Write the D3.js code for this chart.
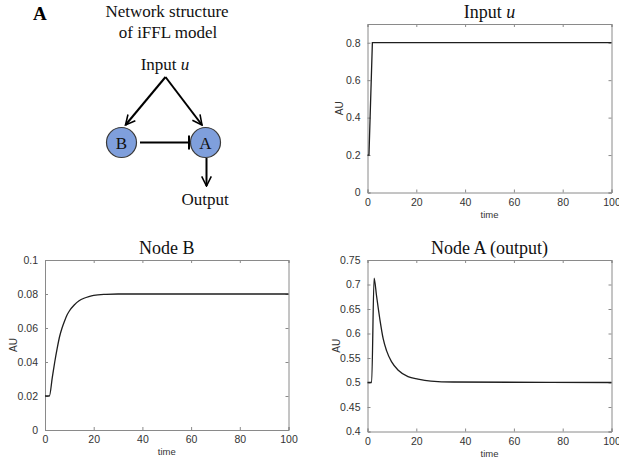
<!DOCTYPE html>
<html>
<head>
<meta charset="utf-8">
<script src="https://cdn.jsdelivr.net/npm/d3@7"></script>
<style>
  body { margin: 0; background: #fff; }
  svg { display: block; }
</style>
</head>
<body>
<div id="VisContainer"></div>
<script>
// time points and values
var uTime = [0, 0.6, 2, 100];
var uValue = [0.2, 0.2, 0.8, 0.8];

var bTime = [0, 1.8, 3, 4, 5, 6, 7, 8, 9, 10, 12, 14, 16, 18, 20, 25, 30, 100];
var bValue = [0.02, 0.02, 0.031, 0.040, 0.048, 0.055, 0.060, 0.064, 0.0675, 0.070, 0.0735, 0.076, 0.0775, 0.0785, 0.0792, 0.0798, 0.08, 0.08];

var aTime = [0, 1.7, 2.7, 3.7, 5.1, 6.4, 7.8, 9.9, 12.6, 16.6, 20.7, 26, 35, 100];
var aValue = [0.5, 0.5, 0.713, 0.677, 0.628, 0.59, 0.565, 0.542, 0.525, 0.512, 0.507, 0.503, 0.501, 0.5];

var xTicks = [0, 20, 40, 60, 80, 100];
var uTicks = [0, 0.2, 0.4, 0.6, 0.8];
var bTicks = [0, 0.02, 0.04, 0.06, 0.08, 0.1];
var aTicks = [0.4, 0.45, 0.5, 0.55, 0.6, 0.65, 0.7, 0.75];

var width = 619, height = 461;
var serif = "'Liberation Serif', 'DejaVu Serif', serif";
var sans = "'Liberation Sans', Arial, sans-serif";
var frameColor = "#8a8a8a";
var textColor = "#333";

var svg = d3.select("#VisContainer").append("svg")
    .attr("width", width)
    .attr("height", height);

function zip(ts, vs) {
  return ts.map(function(t, i) { return {t: t, v: vs[i]}; });
}

function drawPanel(p) {
  var x = d3.scaleLinear().domain([0, 100]).range([p.left, p.right]);
  var y = d3.scaleLinear().domain(p.yDomain).range([p.bottom, p.top]);
  var g = svg.append("g");

  // inward ticks on all four sides (matlab box)
  g.append("g").attr("transform", "translate(0," + p.bottom + ")")
    .call(d3.axisBottom(x).tickValues(xTicks).tickSize(-3).tickPadding(6).tickFormat(d3.format("d")));
  g.append("g").attr("transform", "translate(0," + p.top + ")")
    .call(d3.axisTop(x).tickValues(xTicks).tickSize(-3).tickFormat(""));
  g.append("g").attr("transform", "translate(" + p.left + ",0)")
    .call(d3.axisLeft(y).tickValues(p.yTicks).tickSize(-3).tickPadding(7).tickFormat(function(d){ return String(+d.toFixed(3)); }));
  g.append("g").attr("transform", "translate(" + p.right + ",0)")
    .call(d3.axisRight(y).tickValues(p.yTicks).tickSize(-3).tickFormat(""));

  g.selectAll(".domain").attr("stroke", frameColor);
  g.selectAll(".tick line").attr("stroke", frameColor);
  g.selectAll(".tick text").attr("fill", textColor).style("font-family", sans).style("font-size", "10.5px");

  g.append("path")
    .datum(zip(p.time, p.value))
    .attr("fill", "none")
    .attr("stroke", "#1e1e1e")
    .attr("stroke-width", 1.3)
    .attr("d", d3.line().x(function(d){ return x(d.t); }).y(function(d){ return y(d.v); }).curve(p.curve));

  g.append("text")
    .attr("x", (p.left + p.right) / 2)
    .attr("y", p.bottom + 25)
    .attr("text-anchor", "middle")
    .style("font-family", sans).style("font-size", "9.5px").attr("fill", textColor)
    .text("time");

  g.append("text")
    .attr("transform", "translate(" + (p.left - p.yLabelOffset) + "," + ((p.top + p.bottom) / 2) + ") rotate(-90)")
    .attr("text-anchor", "middle")
    .attr("dy", "0.35em")
    .style("font-family", sans).style("font-size", "10px").attr("fill", textColor)
    .text("AU");

  var title = g.append("text")
    .attr("x", (p.left + p.right) / 2)
    .attr("y", p.top - 6)
    .attr("text-anchor", "middle")
    .style("font-family", serif).style("font-size", "18px").attr("fill", "#111");
  title.append("tspan").text(p.title);
  if (p.titleItalic) title.append("tspan").style("font-style", "italic").text(p.titleItalic);
}

drawPanel({title: "Input ", titleItalic: "u", left: 367.5, right: 611.5, top: 24, bottom: 192.5,
  yDomain: [0, 0.9], yTicks: uTicks, time: uTime, value: uValue, curve: d3.curveLinear, yLabelOffset: 28});
drawPanel({title: "Node B", left: 45, right: 288.5, top: 260, bottom: 430,
  yDomain: [0, 0.1], yTicks: bTicks, time: bTime, value: bValue, curve: d3.curveMonotoneX, yLabelOffset: 32});
drawPanel({title: "Node A (output)", left: 367.5, right: 611.5, top: 260, bottom: 431.5,
  yDomain: [0.4, 0.75], yTicks: aTicks, time: aTime, value: aValue, curve: d3.curveMonotoneX, yLabelOffset: 31});

// network diagram
var net = svg.append("g");
var defs = svg.append("defs");
defs.append("marker")
  .attr("id", "arrow")
  .attr("viewBox", "0 0 10 10")
  .attr("refX", 9).attr("refY", 5)
  .attr("markerWidth", 6).attr("markerHeight", 6)
  .attr("markerUnits", "strokeWidth")
  .attr("orient", "auto")
  .append("path")
  .attr("d", "M1,1 L9,5 L1,9")
  .attr("fill", "none")
  .attr("stroke", "#000")
  .attr("stroke-width", 1.3);

net.append("text").attr("x", 33).attr("y", 20)
  .style("font-family", serif).style("font-size", "19px").style("font-weight", "bold").text("A");
net.append("text").attr("x", 167).attr("y", 17).attr("text-anchor", "middle")
  .style("font-family", serif).style("font-size", "17px").attr("fill", "#111").text("Network structure");
net.append("text").attr("x", 168).attr("y", 38).attr("text-anchor", "middle")
  .style("font-family", serif).style("font-size", "17px").attr("fill", "#111").text("of iFFL model");
var inp = net.append("text").attr("x", 165).attr("y", 70).attr("text-anchor", "middle")
  .style("font-family", serif).style("font-size", "17px").attr("fill", "#111");
inp.append("tspan").text("Input ");
inp.append("tspan").style("font-style", "italic").text("u");

var nodes = [{name: "B", cx: 121.5, cy: 142.5}, {name: "A", cx: 205.5, cy: 142.5}];
var r = 15;

function edge(x1, y1, x2, y2, marker) {
  var l = net.append("line")
    .attr("x1", x1).attr("y1", y1).attr("x2", x2).attr("y2", y2)
    .attr("stroke", "#000").attr("stroke-width", 2);
  if (marker) l.attr("marker-end", "url(#arrow)");
  return l;
}

edge(165.5, 77, 125.5, 125, true);
edge(165.5, 77, 202, 125, true);
edge(140, 142.5, 189, 142.5, false);
edge(189, 135.5, 189, 149.5, false);
edge(206.5, 158, 206.5, 186, true);

net.selectAll("circle.node").data(nodes).enter().append("circle")
  .attr("class", "node")
  .attr("cx", function(d){ return d.cx; })
  .attr("cy", function(d){ return d.cy; })
  .attr("r", r)
  .attr("fill", "#7f9fdc")
  .attr("stroke", "#3a3a3a")
  .attr("stroke-width", 1.2);
net.selectAll("text.node").data(nodes).enter().append("text")
  .attr("class", "node")
  .attr("x", function(d){ return d.cx; })
  .attr("y", function(d){ return d.cy + 6; })
  .attr("text-anchor", "middle")
  .style("font-family", serif).style("font-size", "17px").attr("fill", "#111")
  .text(function(d){ return d.name; });

net.append("text").attr("x", 205).attr("y", 205).attr("text-anchor", "middle")
  .style("font-family", serif).style("font-size", "17px").attr("fill", "#111").text("Output");
</script>
</body>
</html>
